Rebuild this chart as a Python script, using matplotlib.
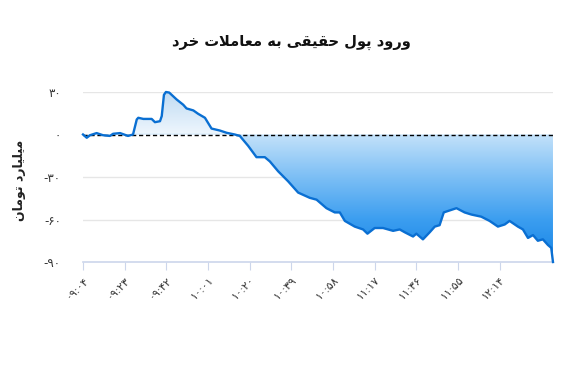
"""
Retail real-money inflow chart (intraday).
"""
import numpy as np
import matplotlib
matplotlib.use('Agg')
import matplotlib.pyplot as plt
from matplotlib.colors import LinearSegmentedColormap

# ── Data ────────────────────────────────────────────────────────────────────
# minutes after 09:04
minutes = [0, 1.7, 3.2, 6.2, 9.1, 12.3, 13.7, 16.9, 20.5, 22.8, 24.5, 25.2,
           27.5, 31.3, 32.8, 35.1, 35.9, 36.9, 37.8, 39.3, 42.7, 45.7, 47.2,
           50.3, 52.5, 55.6, 58.6, 62.4, 65.5, 69.2, 71.5, 75.3, 79.1, 82.9,
           85.2, 89, 93.5, 98.1, 103.4, 106.5, 111, 114.8, 117.1, 119.4,
           123.9, 127.7, 129.7, 133, 136.8, 141.4, 144.4, 146.7, 150.5, 152,
           155, 158.1, 160.4, 162.6, 164.5, 166.4, 170.3, 174, 177.1, 181.6,
           185.4, 189.2, 192.3, 194.5, 198.3, 200.6, 202.9, 205.2, 207.4,
           209.7, 212, 213.5, 214.3]
inflow = [0, -2.3, -0.5, 1, -0.5, -1, 0.5, 1, -1, 0, 10.6, 11.8,
          11, 11, 8.7, 9.4, 13, 28, 30, 29.6, 24.7, 21, 18.4,
          17, 14.6, 11.8, 4.2, 2.8, 1.2, 0, -1, -8, -16, -16,
          -19, -26, -33, -41, -44.7, -46, -52, -55, -55, -61,
          -65, -67, -70, -66, -66, -68, -67, -69, -72, -70,
          -74, -69, -65, -64, -55, -54, -52, -55, -56.5, -58,
          -61, -65, -63.5, -61, -65, -67, -73, -71, -75,
          -74, -78, -80, -90]

tick_pos = [0, 19, 38, 57, 76, 95, 114, 133, 152, 171, 190]
tick_labels = ['۰۹:۰۴', '۰۹:۲۳', '۰۹:۴۲', '۱۰:۰۱', '۱۰:۲۰', '۱۰:۳۹',
               '۱۰:۵۸', '۱۱:۱۷', '۱۱:۳۶', '۱۱:۵۵', '۱۲:۱۴']
y_ticks = [-90, -60, -30, 0, 30]
y_labels = ['-۹۰', '-۶۰', '-۳۰', '۰', '۳۰']

TITLE = 'ورود پول حقیقی به معاملات خرد'
YLABEL = 'میلیارد تومان'

# ── Minimal Persian shaping (matplotlib has no bidi / joining) ─────────────
FORMS = {  # isolated, final, initial, medial
    'ا': ('\uFE8D', '\uFE8E', None, None),
    'ب': ('\uFE8F', '\uFE90', '\uFE91', '\uFE92'),
    'پ': ('\uFB56', '\uFB57', '\uFB58', '\uFB59'),
    'ت': ('\uFE95', '\uFE96', '\uFE97', '\uFE98'),
    'ح': ('\uFEA1', '\uFEA2', '\uFEA3', '\uFEA4'),
    'خ': ('\uFEA5', '\uFEA6', '\uFEA7', '\uFEA8'),
    'د': ('\uFEA9', '\uFEAA', None, None),
    'ر': ('\uFEAD', '\uFEAE', None, None),
    'ع': ('\uFEC9', '\uFECA', '\uFECB', '\uFECC'),
    'ق': ('\uFED5', '\uFED6', '\uFED7', '\uFED8'),
    'ل': ('\uFEDD', '\uFEDE', '\uFEDF', '\uFEE0'),
    'م': ('\uFEE1', '\uFEE2', '\uFEE3', '\uFEE4'),
    'ن': ('\uFEE5', '\uFEE6', '\uFEE7', '\uFEE8'),
    'ه': ('\uFEE9', '\uFEEA', '\uFEEB', '\uFEEC'),
    'و': ('\uFEED', '\uFEEE', None, None),
    'ی': ('\uFBFC', '\uFBFD', '\uFBFE', '\uFBFF'),
    'لا': ('\uFEFB', '\uFEFC', None, None),
}


def shape(text):
    # merge lam-alef
    chars = []
    i = 0
    while i < len(text):
        if text[i] == 'ل' and i + 1 < len(text) and text[i + 1] == 'ا':
            chars.append('لا')
            i += 2
        else:
            chars.append(text[i])
            i += 1
    out = []
    for k, c in enumerate(chars):
        if c not in FORMS:
            out.append(c)
            continue
        prev = chars[k - 1] if k > 0 else None
        nxt = chars[k + 1] if k + 1 < len(chars) else None
        jp = prev in FORMS and FORMS[prev][2] is not None
        jn = FORMS[c][2] is not None and nxt in FORMS
        iso, fin, ini, med = FORMS[c]
        if jp and jn:
            out.append(med)
        elif jp:
            out.append(fin)
        elif jn:
            out.append(ini)
        else:
            out.append(iso)
    return ''.join(out)[::-1]


# ── Plot ────────────────────────────────────────────────────────────────────
plt.rcParams['font.family'] = ['DejaVu Sans']
fig = plt.figure(figsize=(5.83, 3.68), dpi=100)
ax = fig.add_axes([0.1424, 0.288, 0.8061, 0.462])

x = np.array(minutes)
y = np.array(inflow)

# gradient fill clipped to area between line and zero
cmap = LinearSegmentedColormap.from_list('flow', [
    (0.0, '#1584e6'), (0.25, '#3c9ef0'), (0.5, '#7dbff5'),
    (0.75, '#c4e2fa'), (0.7501, '#eef6fd'), (1.0, '#c0dbf3')])
grad = np.linspace(-90, 30, 512).reshape(-1, 1)
poly = ax.fill_between(x, y, 0, color='none', lw=0)
im = ax.imshow(grad, extent=[0, x.max(), -90, 30], origin='lower', aspect='auto',
               cmap=cmap, vmin=-90, vmax=30, zorder=1, interpolation='bilinear')
im.set_clip_path(poly.get_paths()[0], transform=ax.transData)

for v in [30, -30, -60]:
    ax.axhline(v, color='#e6e6e6', lw=1, zorder=0)
ax.axhline(0, color='black', lw=1, ls=(0, (3, 2)), zorder=3)
ax.plot(x, y, color='#0a6fd2', lw=1.7, zorder=4, clip_on=False,
        solid_joinstyle='round')

ax.set_xlim(0, x.max())
ax.set_ylim(-90, 30)
ax.set_xticks(tick_pos)
ax.set_xticklabels(tick_labels, rotation=45, ha='right', rotation_mode='anchor',
                   fontsize=8, color='#333333')
ax.set_yticks(y_ticks)
ax.set_yticklabels(y_labels, fontsize=8.5, color='#333333')
ax.tick_params(axis='y', length=0, pad=16)
ax.tick_params(axis='x', length=6, color='#ccd6eb', pad=3)
for s in ['top', 'right', 'left']:
    ax.spines[s].set_visible(False)
ax.spines['bottom'].set_color('#ccd6eb')
ax.spines['bottom'].set_linewidth(1.2)

fig.text(0.5, 0.885, shape(TITLE), ha='center', va='center', fontsize=10.5,
         fontweight='bold', color='#111111')
fig.text(0.034, 0.51, shape(YLABEL), ha='center', va='center', rotation=90,
         fontsize=9, fontweight='bold', color='#222222')

fig.savefig('out.png', dpi=100, facecolor='white')
